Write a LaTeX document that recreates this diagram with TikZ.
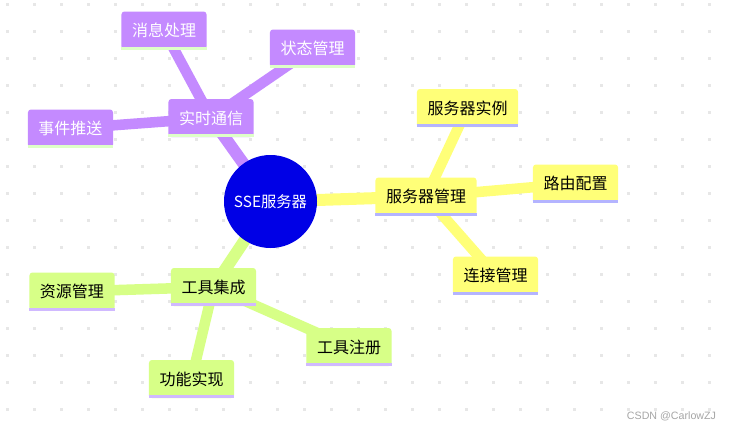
\documentclass[tikz,border=0pt]{standalone}
\usepackage{fontspec}
\newfontfamily\cjk{Noto Sans CJK SC}
\newfontfamily\marksans{Liberation Sans}
\usetikzlibrary{backgrounds}
\definecolor{rootblue}{RGB}{0,0,230}
\definecolor{secpurple}{RGB}{196,138,255}
\definecolor{secyellow}{RGB}{255,255,120}
\definecolor{secgreen}{RGB}{215,255,135}
\definecolor{linepurple}{RGB}{222,255,200}
\definecolor{lineyellow}{RGB}{180,180,255}
\definecolor{linegreen}{RGB}{208,185,255}
\definecolor{griddot}{RGB}{231,231,231}
\tikzset{
  topic/.style={rounded corners=2.2pt, minimum height=28.5pt, inner xsep=7.9pt, inner ysep=0pt, font=\cjk\fontsize{12}{14}\selectfont},
  purplebox/.style={topic, fill=secpurple, text=white},
  yellowbox/.style={topic, fill=secyellow, text=black},
  greenbox/.style={topic, fill=secgreen, text=black},
  rootedge/.style={line width=9pt},
  leafedge/.style={line width=7.9pt},
  strip/.style={line width=2.25pt}
}
\begin{document}
\begin{tikzpicture}[x=0.75pt, y=-0.75pt]
\useasboundingbox (0,0) rectangle (733,430);
\node[circle, fill=rootblue, text=white, minimum size=69.75pt, inner sep=0pt, font=\cjk\fontsize{11.5}{13}\selectfont] (root) at (270.5,201.5) {SSE服务器};
\node[purplebox] (rt) at (211,118) {实时通信};
\node[purplebox] (msg) at (164,30.5) {消息处理};
\node[purplebox] (state) at (312.5,48.5) {状态管理};
\node[purplebox] (push) at (70.5,128.5) {事件推送};
\node[yellowbox] (mgr) at (426,196.5) {服务器管理};
\node[yellowbox] (inst) at (467.5,108) {服务器实例};
\node[yellowbox] (route) at (575.5,183.5) {路由配置};
\node[yellowbox] (conn) at (495.5,275.5) {连接管理};
\node[greenbox] (tool) at (213.5,287) {工具集成};
\node[greenbox] (res) at (72,291.5) {资源管理};
\node[greenbox] (reg) at (349,347) {工具注册};
\node[greenbox] (func) at (191.5,379) {功能实现};
\node[font=\marksans\fontsize{8}{9}\selectfont, text=black!35] (mark) at (671.5,416) {CSDN @CarlowZJ};
\foreach \n in {rt,msg,state,push}
  \draw[strip, linepurple] ([yshift=1.125pt]\n.south west) -- ([yshift=1.125pt]\n.south east);
\foreach \n in {mgr,inst,route,conn}
  \draw[strip, lineyellow] ([yshift=1.125pt]\n.south west) -- ([yshift=1.125pt]\n.south east);
\foreach \n in {tool,res,reg,func}
  \draw[strip, linegreen] ([yshift=1.125pt]\n.south west) -- ([yshift=1.125pt]\n.south east);
\begin{scope}[on background layer]
\fill[white] (0,0) rectangle (733,430);
\foreach \i in {0,...,26}
  \foreach \j in {0,...,15}
    \fill[griddot] (5.5+27*\i,2.5+27*\j) rectangle ++(3,3);
\draw[rootedge, secpurple] (root.center) -- (rt.center);
\draw[leafedge, secpurple] (rt.center) -- (msg.center);
\draw[leafedge, secpurple] (rt.center) -- (state.center);
\draw[leafedge, secpurple] (rt.center) -- (push.center);
\draw[rootedge, secyellow] (root.center) -- (mgr.center);
\draw[leafedge, secyellow] (mgr.center) -- (inst.center);
\draw[leafedge, secyellow] (mgr.center) -- (route.center);
\draw[leafedge, secyellow] (mgr.center) -- (conn.center);
\draw[rootedge, secgreen] (root.center) -- (tool.center);
\draw[leafedge, secgreen] (tool.center) -- (res.center);
\draw[leafedge, secgreen] (tool.center) -- (reg.center);
\draw[leafedge, secgreen] (tool.center) -- (func.center);
\end{scope}
\end{tikzpicture}
\end{document}
